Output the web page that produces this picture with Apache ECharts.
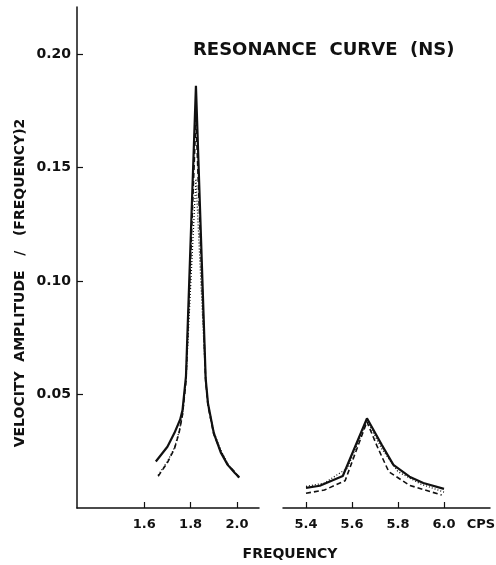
<!DOCTYPE html>
<html>
<head>
<meta charset="utf-8">
<script src="https://cdn.jsdelivr.net/npm/echarts@6/dist/echarts.min.js"></script>
<style>html,body{margin:0;padding:0;background:#fff;}#c{width:496px;height:565px;}</style>
</head>
<body>
<div id="c"></div>
<script>
// ---- data ----
const titleText = 'RESONANCE  CURVE  (NS)';
const yName = 'VELOCITY  AMPLITUDE   /   (FREQUENCY)2';
const xName = 'FREQUENCY';
const unitName = 'CPS';
const yTicks = [0.05, 0.10, 0.15, 0.20];
const lowTicks = [1.6, 1.8, 2.0];
const highTicks = [5.4, 5.6, 5.8, 6.0];

// low-frequency resonance (left panel)
const lowFreqSolid  = [1.65, 1.70, 1.73, 1.755, 1.765, 1.78, 1.823, 1.865, 1.875, 1.90, 1.93, 1.96, 1.99, 2.01];
const lowAmpSolid   = [0.0205, 0.027, 0.033, 0.039, 0.043, 0.058, 0.186, 0.057, 0.046, 0.033, 0.0245, 0.019, 0.0155, 0.0135];
const lowFreqDashed = [1.66, 1.70, 1.73, 1.75, 1.765, 1.78, 1.823, 1.865, 1.875, 1.90, 1.93, 1.96, 1.99, 2.01];
const lowAmpDashed  = [0.014, 0.020, 0.026, 0.033, 0.041, 0.056, 0.172, 0.056, 0.045, 0.0325, 0.025, 0.019, 0.016, 0.013];
const lowFreqDotted = [1.66, 1.70, 1.73, 1.75, 1.765, 1.78, 1.823, 1.865, 1.875, 1.90, 1.93, 1.96, 1.99, 2.01];
const lowAmpDotted  = [0.0145, 0.0205, 0.0265, 0.0335, 0.041, 0.056, 0.145, 0.056, 0.046, 0.0335, 0.0255, 0.0195, 0.0155, 0.0135];

// high-frequency resonance (right panel)
const highFreqSolid  = [5.40, 5.46, 5.56, 5.665, 5.73, 5.78, 5.85, 5.91, 6.00];
const highAmpSolid   = [0.0089, 0.0098, 0.0141, 0.0395, 0.0277, 0.019, 0.0138, 0.011, 0.0084];
const highFreqDashed = [5.40, 5.48, 5.57, 5.665, 5.71, 5.76, 5.85, 5.99];
const highAmpDashed  = [0.0065, 0.0079, 0.012, 0.038, 0.027, 0.016, 0.010, 0.0057];
const highFreqDotted = [5.40, 5.48, 5.58, 5.665, 5.73, 5.80, 5.90, 6.00];
const highAmpDotted  = [0.0095, 0.011, 0.0175, 0.0385, 0.026, 0.016, 0.0105, 0.007];

const pairs = (xs, ys) => xs.map((x, i) => [x, ys[i]]);
const FONT = 'DejaVu Sans';
const ink = '#111';

const chart = echarts.init(document.getElementById('c'), null, {renderer: 'canvas'});
const axisBase = {
  type: 'value',
  axisLine: {show: true, onZero: false, lineStyle: {color: ink, width: 1.5}},
  axisTick: {show: true, inside: true, length: 6, lineStyle: {color: ink, width: 1.2}},
  splitLine: {show: false},
  axisLabel: {color: ink, fontFamily: FONT, fontWeight: 'bold', fontSize: 13}
};
const lineSeries = (idx, data, style) => ({
  type: 'line', xAxisIndex: idx, yAxisIndex: idx, data: data,
  symbol: 'none', smooth: false, animation: false,
  lineStyle: Object.assign({color: ink}, style)
});
const solidStyle = {width: 2.2, type: 'solid'};
const dashedStyle = {width: 1.6, type: [5, 3]};
const dottedStyle = {width: 1.3, type: [1, 2]};

chart.setOption({
  animation: false,
  backgroundColor: '#fff',
  title: {
    text: titleText, left: 188, top: 36,
    textStyle: {fontFamily: FONT, fontWeight: 'bold', fontSize: 18, color: ink}
  },
  grid: [
    {left: 77, top: 7, width: 182, height: 501},
    {left: 283, top: 7, width: 207, height: 501}
  ],
  xAxis: [
    Object.assign({}, axisBase, {
      gridIndex: 0, min: 1.31, max: 2.095,
      axisTick: Object.assign({}, axisBase.axisTick, {customValues: lowTicks}),
      axisLabel: Object.assign({}, axisBase.axisLabel, {customValues: lowTicks, margin: 10,
        formatter: v => v.toFixed(1)})
    }),
    Object.assign({}, axisBase, {
      gridIndex: 1, min: 5.3, max: 6.2,
      axisTick: Object.assign({}, axisBase.axisTick, {customValues: highTicks}),
      axisLabel: Object.assign({}, axisBase.axisLabel, {customValues: highTicks, margin: 10,
        formatter: v => v.toFixed(1)})
    })
  ],
  yAxis: [
    Object.assign({}, axisBase, {
      gridIndex: 0, min: 0, max: 0.2207,
      axisTick: Object.assign({}, axisBase.axisTick, {customValues: yTicks}),
      axisLabel: Object.assign({}, axisBase.axisLabel, {customValues: yTicks, margin: 6, fontSize: 14,
        formatter: v => v.toFixed(2)})
    }),
    {type: 'value', gridIndex: 1, min: 0, max: 0.2207, show: false, splitLine: {show: false}}
  ],
  graphic: [
    {type: 'text', x: 20, y: 283, rotation: Math.PI / 2,
      style: {text: yName, fill: ink, font: 'bold 14px "DejaVu Sans"', align: 'center', verticalAlign: 'middle'}},
    {type: 'text', x: 290, y: 554,
      style: {text: xName, fill: ink, font: 'bold 14px "DejaVu Sans"', align: 'center', verticalAlign: 'middle'}},
    {type: 'text', x: 481, y: 525,
      style: {text: unitName, fill: ink, font: 'bold 13px "DejaVu Sans"', align: 'center', verticalAlign: 'middle'}}
  ],
  series: [
    lineSeries(0, pairs(lowFreqSolid, lowAmpSolid), solidStyle),
    lineSeries(0, pairs(lowFreqDashed, lowAmpDashed), dashedStyle),
    lineSeries(0, pairs(lowFreqDotted, lowAmpDotted), dottedStyle),
    lineSeries(1, pairs(highFreqSolid, highAmpSolid), solidStyle),
    lineSeries(1, pairs(highFreqDashed, highAmpDashed), dashedStyle),
    lineSeries(1, pairs(highFreqDotted, highAmpDotted), dottedStyle)
  ]
});
</script>
</body>
</html>
